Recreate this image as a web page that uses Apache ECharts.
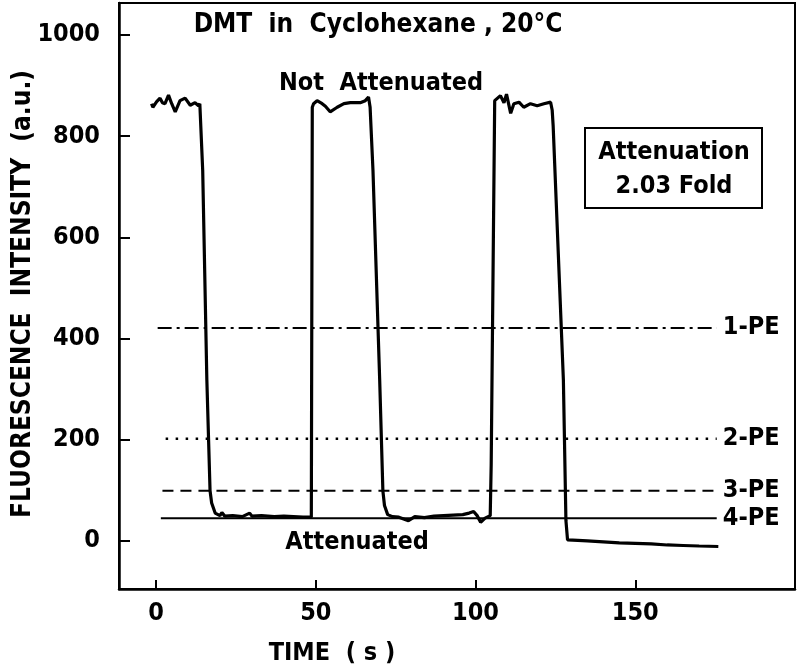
<!DOCTYPE html>
<html>
<head>
<meta charset="utf-8">
<script src="https://cdn.jsdelivr.net/npm/echarts@6/dist/echarts.min.js"></script>
<style>
  html, body { margin: 0; padding: 0; background: #fff; }
  #chart { width: 800px; height: 666px; }
</style>
</head>
<body>
<div id="chart"></div>
<script>
// DMT fluorescence trace, switched between attenuated / not attenuated,
// with the 1..4 photo-electron reference levels.
const FONT = '"DejaVu Sans Condensed", "DejaVu Sans", sans-serif';

// fluorescence trace (time s, intensity a.u.)
const traceTime = [
  -1.4, -1.0, 0.2, 1.25, 2.0, 2.8, 3.9, 4.9, 6.0, 7.5, 9.1, 10.7, 12.2, 13.3, 13.7,
  14.6, 15.9, 16.9, 17.4, 18.5,
  20, 20.6, 21.5, 24, 27, 29.3, 30, 33, 37, 40, 43, 46, 48.6,
  48.9, 49.3, 50.4, 52, 53, 54.5, 56.7, 58.8, 60.8, 63.9, 65.5, 66.5, 67,
  67.9, 70, 71, 71.5, 72.5,
  74, 76, 79, 81, 84, 87, 90, 93, 96, 98, 99.4, 100.5, 101.6, 103, 104.6,
  104.9, 106, 107.8, 108.9, 109.7, 111, 112, 113.6, 115.1, 117.2, 119.3, 121.4, 123.5, 124,
  124.3, 127.5, 128.3, 128.8,
  132, 135, 140, 145, 150, 155, 160, 165, 170, 176
];
const traceIntensity = [
  864, 857, 868, 875, 866, 864, 881, 864, 848, 870, 875, 861, 866, 860, 864,
  732, 318, 99, 75, 55,
  50, 56, 49, 50, 48, 55, 49, 50, 48, 49, 48, 47, 47,
  857, 864, 870, 864, 859, 848, 857, 864, 866, 866, 870, 877, 857,
  732, 318, 99, 70, 52,
  48, 47, 40, 48, 46, 49, 50, 51, 52, 55, 58, 50, 37, 45, 50,
  150, 870, 880, 866, 883, 845, 864, 867, 857, 864, 860, 864, 867, 851,
  820, 318, 40, 2,
  1, 0, -2, -4, -5, -6, -8, -9, -10, -11
];

// photo-electron reference levels
const peNames = ['1-PE', '2-PE', '3-PE', '4-PE'];
const peLevels = [421, 202, 99, 45];
const peStart = [0.5, 3, 2, 1.5];
const peEnd = 175.5;

const xTicks = [0, 50, 100, 150];
const yTicks = [0, 200, 400, 600, 800, 1000];

const peDash = [[14, 5, 3, 5], [2.5, 7.5], [11, 7], 'solid'];
const peWidth = [2, 2.5, 2, 2];

const chart = echarts.init(document.getElementById('chart'));

const textStyle = { color: '#000', fontSize: 25, fontWeight: 'bold', fontFamily: FONT };

const series = [{
  name: 'trace', type: 'line', showSymbol: false, silent: true,
  lineStyle: { color: '#000', width: 3.2 },
  data: traceTime.map((t, i) => [t, traceIntensity[i]]),
  z: 5,
}];
peNames.forEach((n, i) => {
  series.push({
    name: n, type: 'line', showSymbol: false, silent: true,
    lineStyle: { color: '#000', width: peWidth[i], type: peDash[i] },
    data: [[peStart[i], peLevels[i]], [peEnd, peLevels[i]]],
    endLabel: Object.assign({ show: true, formatter: n, distance: 6 }, textStyle),
  });
});

const label = (text, x, y, size, rotation) => ({
  type: 'text', x, y, silent: true, rotation: rotation || 0,
  style: {
    text, fill: '#000', font: 'bold ' + size + 'px ' + FONT,
    textAlign: 'center', textVerticalAlign: 'middle',
  },
});

chart.setOption({
  animation: false,
  backgroundColor: '#fff',
  grid: {
    left: 119, right: 5, top: 3, bottom: 77,
    show: true, borderColor: '#000', borderWidth: 2,
  },
  xAxis: {
    type: 'value', min: -11.6, max: 200,
    axisLine: { onZero: false, lineStyle: { color: '#000', width: 2.5 } },
    axisTick: { inside: true, length: 9, customValues: xTicks, lineStyle: { color: '#000', width: 2 } },
    axisLabel: Object.assign({ customValues: xTicks, margin: 12, formatter: v => String(v) }, textStyle),
    splitLine: { show: false },
  },
  yAxis: {
    type: 'value', min: -95, max: 1063,
    axisLine: { show: true, onZero: false, lineStyle: { color: '#000', width: 2.5 } },
    axisTick: { show: true, inside: true, length: 11, customValues: yTicks, lineStyle: { color: '#000', width: 2 } },
    axisLabel: Object.assign({ customValues: yTicks, margin: 19, formatter: v => String(v) }, textStyle),
    splitLine: { show: false },
  },
  series,
  graphic: [
    label('DMT  in  Cyclohexane , 20°C', 378, 25, 26),
    label('Not  Attenuated', 381, 83, 25),
    label('Attenuated', 357, 542, 25),
    {
      type: 'rect', silent: true,
      shape: { x: 585, y: 128, width: 177, height: 80 },
      style: { fill: '#fff', stroke: '#000', lineWidth: 2 },
    },
    label('Attenuation', 674, 152, 25),
    label('2.03 Fold', 674, 186, 25),
    label('TIME  ( s )', 332, 653, 25),
    label('FLUORESCENCE  INTENSITY  (a.u.)', 23, 294, 26, Math.PI / 2),
  ],
});
</script>
</body>
</html>
